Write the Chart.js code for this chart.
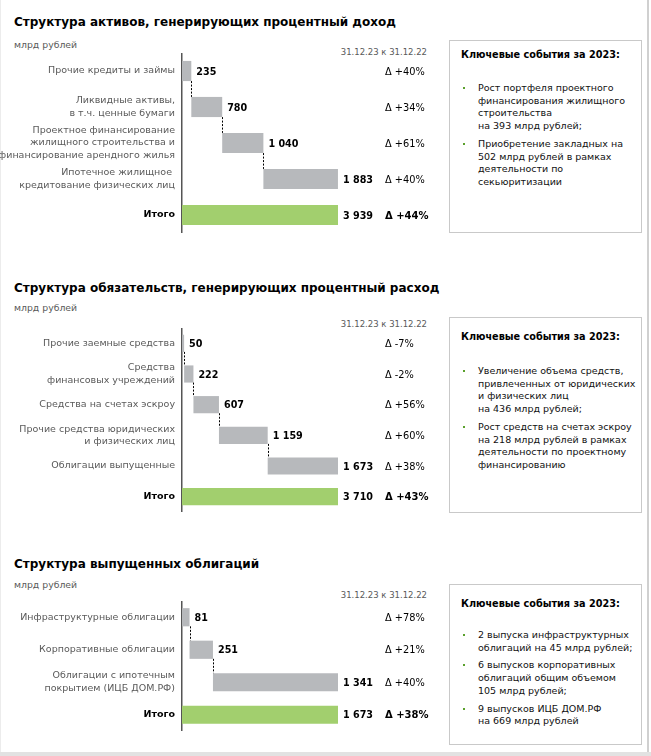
<!DOCTYPE html>
<html>
<head>
<meta charset="utf-8">
<script src="https://cdn.jsdelivr.net/npm/chart.js@4.4.1/dist/chart.umd.min.js"></script>
<style>
  body { margin: 0; width: 651px; height: 756px; position: relative; overflow: hidden; background: #fff;
         font-family: "DejaVu Sans", sans-serif; }
  .frame-r { position: absolute; left: 647px; top: 0; width: 2px; height: 752px; background: #d0d0d0; }
  .frame-l { position: absolute; left: 0; top: 0; width: 1px; height: 752px; background: #ececec; }
  .frame-b { position: absolute; left: 0; top: 752px; width: 651px; height: 4px; background: #e2e2e2; }
  .title { position: absolute; left: 14px; font-size: 12px; font-weight: bold; color: #000; line-height: 14px; }
  .unit { position: absolute; left: 14px; font-size: 9.3px; color: #595959; line-height: 11px; }
  .date { position: absolute; right: 224px; font-size: 8.5px; color: #595959; line-height: 10px; }
  .wrap { position: absolute; left: 0; width: 440px; }
  .box { position: absolute; left: 449px; width: 191px; border: 1px solid #c9c9c9; background: #fff; }
  .box h4 { margin: 0; position: absolute; left: 11px; font-size: 9.7px; font-weight: bold; color: #000; line-height: 12px; white-space: nowrap; }
  .box ul { list-style: none; margin: 0; padding: 0; position: absolute; left: 0; width: 191px; }
  .box li { position: relative; padding-left: 28px; font-size: 9.5px; line-height: 12.7px; color: #111; margin-bottom: 5px; white-space: nowrap; }
  .box li::before { content: ""; position: absolute; left: 13px; top: 5px; width: 2px; height: 2px; background: #5aa02c; }
</style>
</head>
<body>
<div class="frame-l"></div>
<div class="frame-r"></div>
<div class="frame-b"></div>

<div class="title" style="top:15px">Структура активов, генерирующих процентный доход</div>
<div class="unit" style="top:39px">млрд рублей</div>
<div class="date" style="top:47px">31.12.23 к 31.12.22</div>
<div class="wrap" style="top:53px;height:180px"><canvas id="chart1"></canvas></div>
<div class="box" style="top:40px;height:191px">
  <h4 style="top:8px">Ключевые события за 2023:</h4>
  <ul style="top:41px">
    <li>Рост портфеля проектного<br>финансирования жилищного<br>строительства<br>на 393 млрд рублей;</li>
    <li>Приобретение закладных на<br>502 млрд рублей в рамках<br>деятельности по<br>секьюритизации</li>
  </ul>
</div>

<div class="title" style="top:281px">Структура обязательств, генерирующих процентный расход</div>
<div class="unit" style="top:302px">млрд рублей</div>
<div class="date" style="top:319px">31.12.23 к 31.12.22</div>
<div class="wrap" style="top:328px;height:184px"><canvas id="chart2"></canvas></div>
<div class="box" style="top:317px;height:194px">
  <h4 style="top:13px">Ключевые события за 2023:</h4>
  <ul style="top:47px">
    <li>Увеличение объема средств,<br>привлеченных от юридических<br>и физических лиц<br>на 436 млрд рублей;</li>
    <li>Рост средств на счетах эскроу<br>на 218 млрд рублей в рамках<br>деятельности по проектному<br>финансированию</li>
  </ul>
</div>

<div class="title" style="top:557px">Структура выпущенных облигаций</div>
<div class="unit" style="top:579px">млрд рублей</div>
<div class="date" style="top:590px">31.12.23 к 31.12.22</div>
<div class="wrap" style="top:601px;height:130px"><canvas id="chart3"></canvas></div>
<div class="box" style="top:584px;height:159px">
  <h4 style="top:13px">Ключевые события за 2023:</h4>
  <ul style="top:44px">
    <li>2 выпуска инфраструктурных<br>облигаций на 45 млрд рублей;</li>
    <li>6 выпусков корпоративных<br>облигаций общим объемом<br>105 млрд рублей;</li>
    <li>9 выпусков ИЦБ ДОМ.РФ<br>на 669 млрд рублей</li>
  </ul>
</div>

<script>
// --- данные, млрд рублей ---
var assetLabels = [
  "Прочие кредиты и займы",
  ["Ликвидные активы,", "в т.ч. ценные бумаги"],
  ["Проектное финансирование", "жилищного строительства и", "финансирование арендного жилья"],
  ["Ипотечное жилищное ", "кредитование физических лиц"],
  "Итого"
];
var assetValues = [235, 780, 1040, 1883];
var assetTotal = 3939;
var assetDeltas = ["Δ +40%", "Δ +34%", "Δ +61%", "Δ +40%", "Δ +44%"];

var liabLabels = [
  "Прочие заемные средства",
  ["Средства", "финансовых учреждений"],
  "Средства на счетах эскроу",
  ["Прочие средства юридических", "и физических лиц"],
  "Облигации выпущенные",
  "Итого"
];
var liabValues = [50, 222, 607, 1159, 1673];
var liabTotal = 3710;
var liabDeltas = ["Δ -7%", "Δ -2%", "Δ +56%", "Δ +60%", "Δ +38%", "Δ +43%"];

var bondLabels = [
  "Инфраструктурные облигации",
  "Корпоративные облигации",
  ["Облигации с ипотечным", "покрытием (ИЦБ ДОМ.РФ)"],
  "Итого"
];
var bondValues = [81, 251, 1341];
var bondTotal = 1673;
var bondDeltas = ["Δ +78%", "Δ +21%", "Δ +40%", "Δ +38%"];

var GRAY = "#b7b9bc";
var GREEN = "#a2cf6e";
var FONT = "'DejaVu Sans', sans-serif";

function fmt(v) {
  return String(v).replace(/\B(?=(\d{3})+(?!\d))/g, " ");
}

var waterfallLabels = {
  id: "waterfallLabels",
  afterDatasetsDraw: function(chart) {
    var ctx = chart.ctx;
    var meta = chart.getDatasetMeta(0);
    var cfg = chart.options.plugins.waterfallLabels;
    var n = meta.data.length;
    ctx.save();
    // пунктирные соединители
    ctx.strokeStyle = "#000";
    ctx.lineWidth = 1;
    ctx.setLineDash([2, 1.5]);
    for (var i = 0; i < n - 2; i++) {
      var a = meta.data[i], b = meta.data[i + 1];
      var x = Math.round(a.x) + 0.5;
      ctx.beginPath();
      ctx.moveTo(x, a.y + a.height / 2);
      ctx.lineTo(x, b.y - b.height / 2);
      ctx.stroke();
    }
    ctx.setLineDash([]);
    ctx.textBaseline = "middle";
    ctx.fillStyle = "#000";
    for (var j = 0; j < n; j++) {
      var el = meta.data[j];
      var last = j === n - 1;
      ctx.font = "bold 9.6px " + FONT;
      ctx.textAlign = "left";
      ctx.fillText(fmt(cfg.values[j]), el.x + 5, el.y + 1);
      ctx.font = (last ? "bold 10px " : "9.8px ") + FONT;
      ctx.fillText(cfg.deltas[j], chart.chartArea.right + 47, el.y + 1);
    }
    ctx.restore();
  }
};

function waterfall(id, labels, values, total, deltas) {
  var ranges = [];
  var acc = 0;
  values.forEach(function(v) {
    ranges.push([acc, acc + v]);
    acc += v;
  });
  ranges.push([0, total]);
  var colors = values.map(function() { return GRAY; }).concat([GREEN]);
  var last = labels.length - 1;

  return new Chart(document.getElementById(id), {
    type: "bar",
    data: {
      labels: labels,
      datasets: [{
        data: ranges,
        backgroundColor: colors,
        borderWidth: 0,
        borderSkipped: false,
        barPercentage: 0.56,
        categoryPercentage: 1
      }]
    },
    options: {
      indexAxis: "y",
      responsive: true,
      maintainAspectRatio: false,
      animation: false,
      layout: { padding: { left: 0, right: 102, top: 0, bottom: 0 } },
      plugins: {
        legend: { display: false },
        tooltip: { enabled: false },
        waterfallLabels: { values: values.concat([total]), deltas: deltas }
      },
      scales: {
        x: { display: false, min: 0, max: total },
        y: {
          grid: { display: false, drawTicks: false },
          border: { display: true, color: "#555", width: 1.5 },
          afterFit: function(scale) {
            scale.width = 182;
            scale.paddingTop = 0;
            scale.paddingBottom = 0;
          },
          ticks: {
            autoSkip: false,
            padding: 7,
            color: function(c) { return c.index === last ? "#000" : "#595959"; },
            font: function(c) {
              return { family: FONT, size: 9.5, weight: c.index === last ? "bold" : "normal", lineHeight: 1.32 };
            }
          }
        }
      }
    },
    plugins: [waterfallLabels]
  });
}

waterfall("chart1", assetLabels, assetValues, assetTotal, assetDeltas);
waterfall("chart2", liabLabels, liabValues, liabTotal, liabDeltas);
waterfall("chart3", bondLabels, bondValues, bondTotal, bondDeltas);
</script>
</body>
</html>
